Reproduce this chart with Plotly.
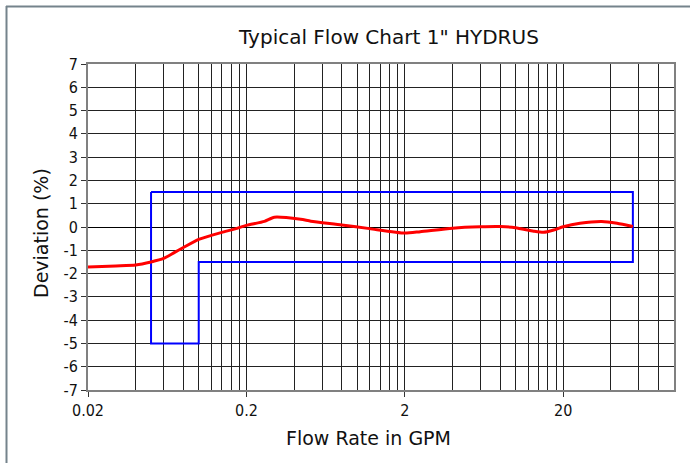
import plotly.graph_objects as go

# Measured curve (Flow rate GPM vs deviation %)
flow_gpm = [0.02, 0.03, 0.04, 0.05, 0.06, 0.07, 0.08, 0.1, 0.12, 0.14, 0.17, 0.2, 0.26, 0.3,
            0.44, 0.51, 0.8, 1.2, 2.0, 2.5, 4.0, 6.0, 8.0, 10.0, 13.0, 15.0, 17.4, 20.0,
            25.5, 35.0, 43.7, 55.0]
deviation = [-1.72, -1.67, -1.63, -1.5, -1.35, -1.1, -0.88, -0.53, -0.36, -0.23, -0.08, 0.07, 0.24, 0.42,
             0.33, 0.25, 0.09, -0.07, -0.26, -0.2, -0.05, 0.01, 0.02, -0.03, -0.18, -0.23, -0.13, 0.01,
             0.16, 0.24, 0.16, 0.02]

# Accuracy limit envelope
limit_x = [0.05, 55.0, 55.0, 0.1, 0.1, 0.05, 0.05]
limit_y = [1.5, 1.5, -1.5, -1.5, -5.0, -5.0, 1.5]

# Axis ticks
x_tick_vals = [0.02, 0.2, 2, 20]
x_tick_text = ["0.02", "0.2", "2", "20"]
x_grid_vals = [round(k * base, 4) for base in (0.02, 0.2, 2, 20) for k in range(1, 11)
               if k * base <= 100]
y_tick_vals = [-7, -6, -5, -4, -3, -2, -1, 0, 1, 2, 3, 4, 5, 6, 7]
y_tick_text = ["-7", "-6", "-5", "-4", "-3", "-2", "-1", "0", "1", "2", "3", "4", "5", "6", "7"]

W, H = 690, 463
L, R, T, B = 88, 16, 64, 73
pw, ph = W - L - R, H - T - B

TICK_FONT = "DejaVu Sans Condensed, DejaVu Sans, sans-serif"
TITLE_FONT = "DejaVu Sans, sans-serif"


def px_x(p):
    return (p - L) / pw


def px_y(p):
    return (H - B - p) / ph


fig = go.Figure()
fig.add_trace(go.Scatter(x=limit_x, y=limit_y, mode="lines",
                         line=dict(color="#0000ff", width=2), hoverinfo="skip"))
fig.add_trace(go.Scatter(x=flow_gpm, y=deviation, mode="lines",
                         line=dict(color="#ff0000", width=3, shape="spline", smoothing=0.6)))

fig.update_layout(
    width=W, height=H,
    margin=dict(l=L, r=R, t=T, b=B, autoexpand=False),
    paper_bgcolor="white", plot_bgcolor="white",
    showlegend=False,
    font=dict(family=TICK_FONT, size=16, color="#111111"),
    xaxis=dict(type="log", range=[-1.69897, 2.0], automargin=False,
               tickmode="array", tickvals=x_tick_vals, ticktext=x_tick_text,
               ticks="outside", ticklen=5, tickcolor="#333333",
               showgrid=True, gridcolor="#222222", gridwidth=1,
               minor=dict(tickmode="array", tickvals=x_grid_vals, showgrid=True,
                          gridcolor="#222222", gridwidth=1, ticks=""),
               showline=True, linecolor="#808080", linewidth=2, mirror=True,
               zeroline=False),
    yaxis=dict(range=[-7, 7], tickmode="array", tickvals=y_tick_vals, ticktext=y_tick_text,
               automargin=False,
               ticks="outside", ticklen=5, tickcolor="#333333",
               showgrid=True, gridcolor="#222222", gridwidth=1,
               zeroline=True, zerolinecolor="#000000", zerolinewidth=1,
               showline=True, linecolor="#808080", linewidth=2, mirror=True),
    annotations=[
        dict(text='Typical Flow Chart 1" HYDRUS', xref="paper", yref="paper",
             x=px_x(388), y=px_y(37), xanchor="center", yanchor="middle",
             showarrow=False, font=dict(family=TITLE_FONT, size=20, color="#111111")),
        dict(text="Flow Rate in GPM", xref="paper", yref="paper",
             x=px_x(368), y=px_y(438), xanchor="center", yanchor="middle",
             showarrow=False, font=dict(family=TITLE_FONT, size=19, color="#111111")),
        dict(text="Deviation (%)", xref="paper", yref="paper", textangle=-90,
             x=px_x(41), y=px_y(233), xanchor="center", yanchor="middle",
             showarrow=False, font=dict(family=TITLE_FONT, size=19, color="#111111")),
    ],
    shapes=[
        dict(type="line", xref="paper", yref="paper", x0=px_x(6), x1=px_x(W + 2),
             y0=px_y(6.5), y1=px_y(6.5), line=dict(color="#75838c", width=2)),
        dict(type="line", xref="paper", yref="paper", x0=px_x(6.5), x1=px_x(6.5),
             y0=px_y(6), y1=px_y(H + 2), line=dict(color="#75838c", width=2)),
    ],
)

fig.write_html("out.html", config={"displayModeBar": False},
               post_script="document.body.style.margin='0';")
